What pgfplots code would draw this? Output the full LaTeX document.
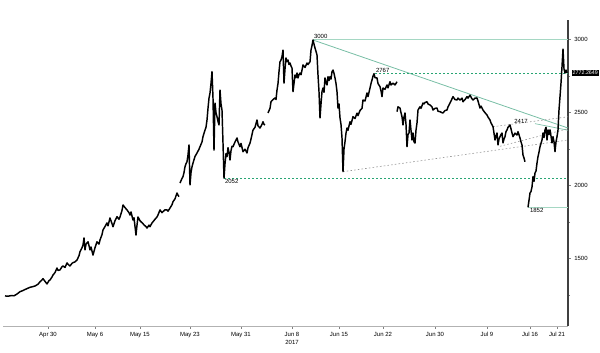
\documentclass[border=0pt]{standalone}
\usepackage{pgfplots}
\pgfplotsset{compat=1.18}
\usepackage{fontspec}
\setmainfont{Liberation Sans}
\definecolor{solgreen}{RGB}{120,190,165}
\definecolor{lightgreen}{RGB}{165,215,195}
\definecolor{dotgreen}{RGB}{40,165,115}
\definecolor{dotgrey}{RGB}{150,150,150}
\begin{document}
\begin{tikzpicture}
\useasboundingbox (-2.25pt,-20.25pt) rectangle (447.75pt,244.5pt);
\begin{axis}[
  at={(0,0)}, anchor=south west,
  scale only axis, width=423.75pt, height=229.5pt,
  xmin=3, xmax=568, ymin=1039, ymax=3135,
  axis x line*=bottom, axis y line*=right,
  x axis line style={draw=gray!60, -},
  y axis line style={draw=black!75, line width=0.8pt, -},
  clip=false,
  font=\fontsize{4.5}{5}\selectfont,
  ytick={1500,2000,2500,3000},
  minor ytick={1250,1750,2250,2750},
  yticklabel style={font=\fontsize{4.5}{5}\selectfont, xshift=-1pt},
  /pgf/number format/assume math mode=true,
  /pgf/number format/1000 sep={},
  xtick={48,95,140,190,241,292,339,383,435,487,530,557},
  xticklabels={Apr 30,May 6,May 15,May 23,May 31,Jun 8,Jun 15,Jun 22,Jun 30,Jul 9,Jul 16,Jul 21},
  xticklabel style={font=\fontsize{4.5}{5}\selectfont, yshift=1pt},
  minor x tick num=3,
  tick style={draw=gray, line width=0.4pt},
  major tick length=2.2pt, minor tick length=1.5pt,
  tick align=outside,
]
% reference lines
\addplot[lightgreen, line width=0.6pt] coordinates {(313,3000) (568,3000)};
\addplot[solgreen, line width=0.6pt] coordinates {(313,2998) (568,2395)};
\addplot[solgreen, line width=0.5pt] coordinates {(535,2425) (568,2380)};
\addplot[dotgreen, line width=0.7pt, dash pattern=on 1.2pt off 1.8pt] coordinates {(375,2772) (568,2772)};
\addplot[dotgreen, line width=0.7pt, dash pattern=on 1.2pt off 1.8pt] coordinates {(224,2052) (568,2052)};
\addplot[dotgrey, line width=0.45pt, dash pattern=on 1.2pt off 1.6pt] coordinates {(343,2096) (568,2313)};
\addplot[dotgrey, line width=0.45pt, dash pattern=on 1.2pt off 1.6pt] coordinates {(493,2404) (568,2472)};
\addplot[dotgrey, line width=0.45pt, dash pattern=on 1.2pt off 1.6pt] coordinates {(500,2270) (568,2390)};
\addplot[lightgreen, line width=0.6pt] coordinates {(528,1852) (568,1852)};
% price series
\begin{scope}[line join=round]
\addplot[black, line width=1.1pt] coordinates {
(5,1245) (8,1243) (11,1247) (14,1246) (17,1258) (20,1274) (23,1282) (26,1292) (30,1304) (33,1309) (35,1313) (38,1325) (40,1342) (42,1355) (43,1363) (45,1345) (47,1327) (49,1350) (50,1354) (52,1375) (53,1388) (55,1405) (57,1436) (58,1420) (60,1423) (62,1445) (63,1450) (65,1440) (67,1471) (68,1462) (70,1450) (72,1468) (73,1473) (75,1478) (77,1491) (79,1520) (80,1548) (82,1575) (83,1594) (84,1642) (85,1560) (86,1600) (88,1616) (89,1590) (90,1560) (91,1580) (93,1525) (95,1575) (97,1616) (99,1600) (100,1628) (102,1665) (103,1697) (105,1720) (107,1745) (108,1725) (110,1779) (112,1740) (113,1719) (115,1760) (117,1788) (119,1770) (120,1786) (122,1830) (123,1868) (125,1850) (127,1834) (129,1815) (130,1799) (131,1820) (133,1765) (134,1780) (136,1662) (137,1730) (138,1786) (140,1760) (141,1753) (143,1740) (144,1731) (146,1720) (147,1710) (149,1730) (150,1719) (152,1745) (153,1753) (155,1770) (157,1786) (158,1800) (160,1834) (162,1815) (163,1822) (165,1835) (167,1834) (168,1825) (170,1847) (172,1870) (173,1890) (175,1910) (177,1950) (178,1935) (179,1925)
};
\addplot[black, line width=1.1pt] coordinates {
(180,2018) (182,2050) (183,2062) (184,2090) (185,2130) (186,2150) (187,2164) (188,2210) (189,2279) (190,2005) (191,2090) (192,2130) (193,2155) (195,2200) (197,2224) (199,2250) (200,2267) (202,2300) (203,2336) (205,2381) (206,2400) (207,2450) (208,2530) (209,2600) (210,2635) (211,2700) (212,2781) (213,2600) (214,2244) (215,2566) (216,2500) (217,2473) (218,2440) (219,2416) (220,2655) (221,2560) (222,2518) (223,2292) (224,2052) (225,2150) (226,2220) (227,2199) (228,2260) (229,2230) (230,2176) (231,2240) (232,2270) (233,2267) (235,2300) (237,2327) (238,2300) (240,2267) (241,2290) (243,2233) (245,2250) (247,2224) (248,2260) (250,2292) (251,2320) (253,2381) (255,2400) (257,2450) (258,2410) (260,2395) (262,2420) (263,2438) (264,2420) (265,2416)
};
\addplot[black, line width=1.1pt] coordinates {
(268,2498) (270,2530) (271,2575) (273,2590) (275,2601) (276,2590) (277,2655) (278,2700) (279,2781) (280,2849) (281,2860) (282,2884) (283,2929) (284,2703) (285,2800) (286,2875) (287,2850) (288,2861) (289,2830) (290,2840) (291,2820) (292,2806) (293,2644) (294,2700) (295,2758) (296,2740) (297,2772) (298,2738) (299,2760) (300,2772) (301,2760) (302,2792) (303,2827) (305,2810) (307,2840) (308,2830) (310,2849) (311,2929) (312,2960) (313,2998) (314,2970) (315,2943) (316,2920) (317,2895) (318,2758) (319,2644) (320,2464) (321,2560) (322,2644) (323,2669) (324,2640) (325,2738) (326,2710) (327,2690) (328,2747) (329,2720) (330,2747) (331,2730) (332,2781) (333,2792) (334,2770) (335,2738) (336,2700) (337,2644) (338,2532) (339,2560) (340,2464) (341,2420) (342,2327) (343,2096) (344,2250) (345,2301) (346,2360) (347,2395) (348,2380) (350,2438) (351,2420) (353,2473) (355,2460) (357,2497) (358,2480) (360,2515) (362,2530) (363,2587) (365,2580) (367,2635) (368,2610) (370,2669) (371,2700) (372,2724) (373,2750) (374,2767) (375,2740) (377,2738) (378,2700) (380,2678) (381,2650) (382,2610) (383,2669) (385,2660) (387,2690) (388,2670) (390,2712) (391,2690) (393,2703) (395,2690) (397,2712)
};
\addplot[black, line width=1.1pt] coordinates {
(397,2507) (398,2540) (400,2532) (401,2500) (402,2472) (403,2416) (404,2470) (405,2498) (406,2420) (407,2267) (408,2350) (409,2361) (410,2450) (411,2380) (412,2313) (413,2361) (414,2300) (415,2292) (416,2380) (417,2430) (418,2518) (419,2530) (420,2541) (421,2530) (423,2566) (424,2560) (425,2570) (427,2575) (428,2560) (430,2553) (432,2540) (433,2518) (435,2530) (437,2532) (438,2510) (440,2507) (442,2500) (443,2498) (445,2515) (447,2518) (448,2540) (450,2566) (451,2580) (453,2610) (455,2590) (457,2587) (458,2600) (460,2587) (462,2600) (463,2575) (465,2590) (467,2610) (468,2600) (470,2620) (472,2595) (473,2587) (475,2600) (477,2601) (478,2580) (480,2532) (481,2545) (483,2518) (485,2500) (487,2484) (488,2470) (490,2450) (491,2430) (493,2404) (494,2360) (495,2313) (496,2340) (497,2361) (498,2279) (499,2320) (500,2336) (501,2350) (502,2361) (503,2293) (504,2320) (505,2336) (506,2370) (507,2382) (508,2400) (510,2416) (511,2390) (512,2361) (513,2336) (515,2360) (517,2347) (518,2370) (520,2327) (521,2300) (522,2279) (523,2210) (524,2190) (525,2164)
};
\addplot[black, line width=1.1pt] coordinates {
(528,1852) (529,1900) (530,1950) (531,1960) (532,1992) (533,2062) (534,2030) (535,2087) (536,2100) (537,2155) (538,2199) (539,2230) (540,2267) (541,2290) (542,2313) (543,2361) (544,2330) (545,2382) (546,2400) (547,2313) (548,2382) (549,2350) (550,2382) (551,2340) (552,2293) (553,2336) (554,2300) (555,2233) (556,2300) (557,2336) (558,2382) (559,2519) (560,2610) (561,2703) (562,2815) (563,2935) (564,2800) (565,2772) (566,2792) (567,2772)
};
\end{scope}
% annotations
\node[anchor=south west, inner sep=0.6pt] at (axis cs:313,3000) {3000};
\node[anchor=south west, inner sep=0.6pt] at (axis cs:375,2767) {2767};
\node[anchor=north west, inner sep=0.6pt] at (axis cs:224,2052) {2052};
\node[inner sep=0.6pt] at (axis cs:521,2443) {2417};
\node[anchor=north west, inner sep=0.6pt] at (axis cs:529,1852) {1852};
\node[inner sep=0pt] at (axis cs:292,1039) [yshift=-12pt] {2017};
\node[anchor=west, fill=black, text=white, inner xsep=0.8pt, inner ysep=0.8pt, font=\fontsize{4}{4.5}\selectfont] at (axis cs:568,2772) [xshift=2.5pt] {2772.2649};
\end{axis}
\end{tikzpicture}
\end{document}
